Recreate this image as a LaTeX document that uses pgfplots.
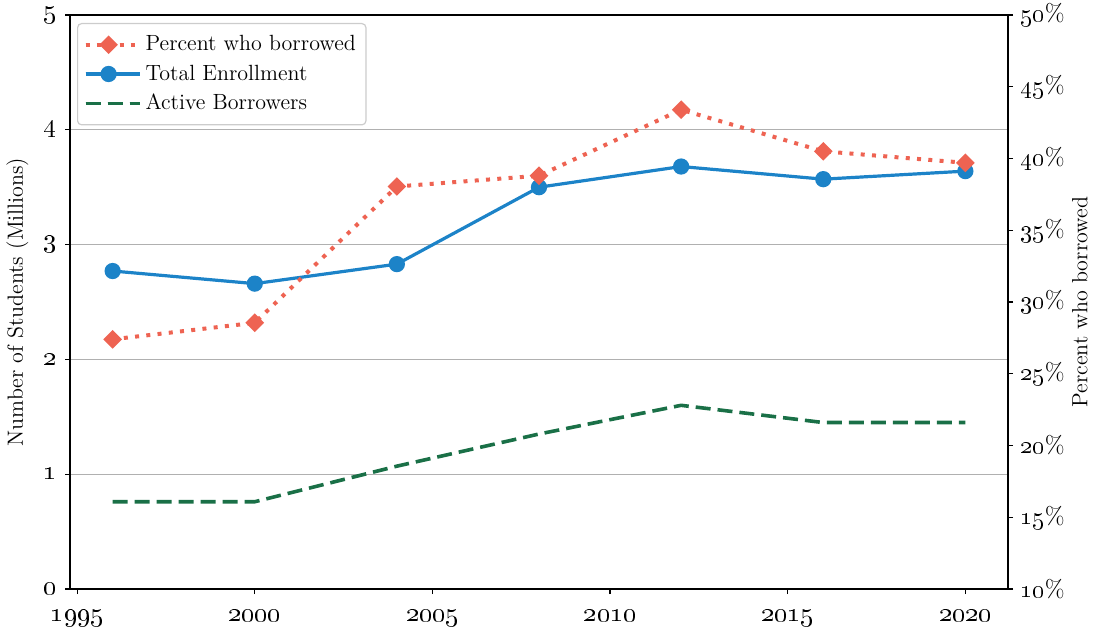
\documentclass[border=0pt]{standalone}
\usepackage{pgfplots}
\pgfplotsset{compat=1.18}

\definecolor{pctred}{RGB}{238,99,82}
\definecolor{enrblue}{RGB}{28,131,200}
\definecolor{borgreen}{RGB}{26,112,71}
\definecolor{gridgray}{RGB}{176,176,176}
\definecolor{legframe}{RGB}{204,204,204}

\newcommand{\chartfont}{\fontsize{11}{13}\selectfont}

\pgfplotsset{
  basestyle/.style={
    scale only axis, width=469pt, height=287pt,
    xmin=1994.8, xmax=2021.2,
    tick align=outside, major tick length=2.5pt,
    axis line style={line width=0.75pt},
    every tick/.style={black, line width=0.6pt},
    tick label style={font=\chartfont, scale=1.2},
    label style={font=\chartfont},
  },
  pctstyle/.style={color=pctred, line width=2pt, dash pattern=on 2pt off 3.65pt,
    mark=square*, mark size=2.3pt, mark options={solid, rotate=45, fill=pctred}},
  enrstyle/.style={color=enrblue, line width=1.6pt, mark=*, mark size=3.25pt,
    mark options={solid, fill=enrblue}},
  borstyle/.style={color=borgreen, line width=1.8pt, dash pattern=on 7.5pt off 3.5pt},
  legend image code/.code={
    \draw[mark repeat=2, mark phase=2, #1] plot coordinates {(0pt,0pt) (11.5pt,0pt) (23pt,0pt)};
    \path (0pt,0pt) -- (27pt,0pt);
  },
}

\begin{document}
\begin{tikzpicture}
% Left axis: enrollment and active borrowers, in millions
\begin{axis}[basestyle, name=left,
  ymin=0, ymax=5,
  xtick={1995,2000,2005,2010,2015,2020},
  xticklabels={\oldstylenums{1995},\oldstylenums{2000},\oldstylenums{2005},\oldstylenums{2010},\oldstylenums{2015},\oldstylenums{2020}},
  xticklabel style={yshift=-3pt},
  ytick={0,1,2,3,4,5},
  yticklabels={\oldstylenums{0},\oldstylenums{1},\oldstylenums{2},\oldstylenums{3},\oldstylenums{4},\oldstylenums{5}},
  xtick pos=bottom, ytick pos=left,
  ymajorgrids, major grid style={gridgray, line width=0.6pt},
  ylabel={Number of Students (Millions)},
]
\addplot[enrstyle] coordinates {
  (1996,2.77) (2000,2.66) (2004,2.83) (2008,3.50) (2012,3.68) (2016,3.57) (2020,3.64)};
\addplot[borstyle] coordinates {
  (1996,0.76) (2000,0.76) (2004,1.07) (2008,1.35) (2012,1.60) (2016,1.45) (2020,1.45)};
\end{axis}

% Right axis: share of students who borrowed
\begin{axis}[basestyle,
  ymin=10, ymax=50,
  axis x line=none, axis y line*=right,
  ytick={10,15,20,25,30,35,40,45,50},
  yticklabels={\oldstylenums{10}\%,\oldstylenums{15}\%,\oldstylenums{20}\%,\oldstylenums{25}\%,\oldstylenums{30}\%,\oldstylenums{35}\%,\oldstylenums{40}\%,\oldstylenums{45}\%,\oldstylenums{50}\%},
  yticklabel style={scale=0.92},
  ylabel={Percent who borrowed},
  ylabel shift=-3.5pt,
  legend cell align=left,
  legend style={at={(rel axis cs:0,1)}, anchor=north west, xshift=3.5pt, yshift=-4pt,
    draw=legframe, line width=0.6pt, rounded corners=2pt, fill=white,
    font=\chartfont, inner xsep=3pt, inner ysep=4pt, row sep=1.5pt},
]
\addplot[pctstyle] coordinates {
  (1996,27.4) (2000,28.55) (2004,38.05) (2008,38.8) (2012,43.4) (2016,40.5) (2020,39.7)};
\addlegendentry{Percent who borrowed}
\addlegendimage{enrstyle}
\addlegendentry{Total Enrollment}
\addlegendimage{borstyle}
\addlegendentry{Active Borrowers}
\end{axis}

\pgfresetboundingbox
\path[use as bounding box] ([shift={(-35pt,-19pt)}]left.south west) rectangle ([shift={(512.5pt,294.5pt)}]left.south west);
\end{tikzpicture}
\end{document}
